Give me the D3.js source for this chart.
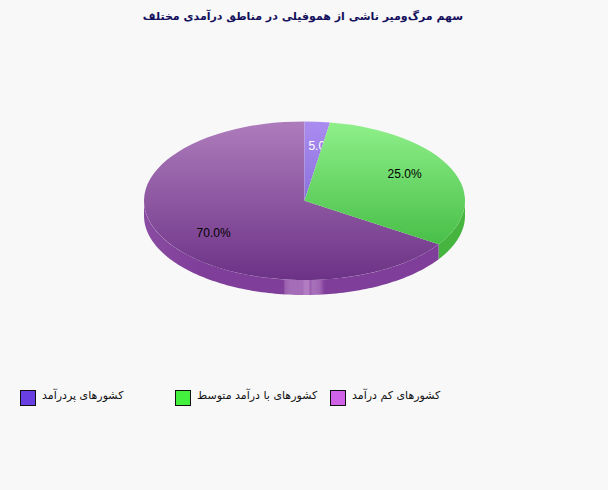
<!DOCTYPE html>
<html lang="fa">
<head>
<meta charset="utf-8">
<script src="https://cdn.jsdelivr.net/npm/d3@7/dist/d3.min.js"></script>
<style>
html,body{margin:0;padding:0;background:#f8f8f8;overflow:hidden}
svg{display:block}
</style>
</head>
<body>
<svg id="c" width="608" height="490"></svg>
<script>
const chartTitle = "سهم مرگ‌ومیر ناشی از هموفیلی در مناطق درآمدی مختلف";
const categories = ["کشورهای پردرآمد", "کشورهای با درآمد متوسط", "کشورهای کم درآمد"];
const shares = [5, 25, 70];
const shareLabels = ["5.0%", "25.0%", "70.0%"];

const legendColors = ["#6a3fe2", "#44f03e", "#d062e8"];
const topColors = ["#ab8cf0", "#8ff08a", "#ae7cbc"];
const bottomColors = ["#8a72dc", "#48bf48", "#6c3286"];
const sideColors = ["#7a5cc8", "#45b53f", "#7f3e9a"];
const labelColors = ["#ffffff", "#000000", "#000000"];

const W = 608, H = 490;
const cx = 304.5, cy = 200.7, rx = 160.5, ry = 79.3, depth = 15;
const svg = d3.select("#c");
const defs = svg.append("defs");

const pie = d3.pie().value(d => d).sort(null)(shares);
// slice edges follow the true screen angle of the flattened pie
const toParam = a => {
  const n = Math.atan2(ry * Math.sin(a), rx * Math.cos(a));
  return n < 0 ? n + 2 * Math.PI : n;
};
const angles = pie.map(p => ({
  t0: toParam(p.startAngle),
  t1: p.endAngle >= 2 * Math.PI - 1e-6 ? 2 * Math.PI : toParam(p.endAngle),
  mid: (p.startAngle + p.endAngle) / 2
}));

const sx = d3.scaleLinear().domain([0, 1]).range([cx, cx + rx]);
const sy = d3.scaleLinear().domain([0, 1]).range([cy, cy + ry]);

// each slice's gradient runs over that slice's own height
shares.forEach((_, i) => {
  const { t0, t1 } = angles[i];
  const lowest = (t0 <= Math.PI && t1 >= Math.PI) ? sy(1) : Math.max(cy, sy(-Math.cos(t0)), sy(-Math.cos(t1)));
  const g = defs.append("linearGradient").attr("id", "g" + i)
    .attr("gradientUnits", "userSpaceOnUse")
    .attr("x1", 0).attr("x2", 0).attr("y1", sy(-1)).attr("y2", lowest);
  g.append("stop").attr("offset", 0).attr("stop-color", topColors[i]);
  g.append("stop").attr("offset", 1).attr("stop-color", bottomColors[i]);
});

// side-wall gradient for the large slice, with the pale glint at the front
const glint = defs.append("linearGradient").attr("id", "side2")
  .attr("gradientUnits", "userSpaceOnUse")
  .attr("x1", cx - rx).attr("x2", cx + rx).attr("y1", 0).attr("y2", 0);
const xOff = d3.scaleLinear().domain([cx - rx, cx + rx]).range([0, 1]);
[[cx - rx, "#8a4ca2"], [200, sideColors[2]], [283.5, sideColors[2]], [285, "#9a5fae"], [290, "#a56db8"], [303, "#a56db8"],
 [304, "#b27cc2"], [309, "#b27cc2"], [310, "#9a5cae"], [313, "#a872ba"], [320, "#a064b4"],
 [323, "#8a4aa2"], [325, sideColors[2]], [cx + rx, sideColors[2]]].forEach(([x, c]) => {
  glint.append("stop").attr("offset", xOff(x)).attr("stop-color", c);
});

// side wall, only the front half of the rim
const wall = d3.area()
  .x(t => sx(Math.sin(t)))
  .y0(t => sy(-Math.cos(t)))
  .y1(t => sy(-Math.cos(t)) + depth);
const gSide = svg.append("g");
shares.forEach((_, i) => {
  const a = Math.max(angles[i].t0, Math.PI / 2), b = Math.min(angles[i].t1, 3 * Math.PI / 2);
  if (b <= a) return;
  const n = 120;
  const ts = d3.range(n + 1).map(k => a + (b - a) * k / n);
  gSide.append("path").attr("d", wall(ts))
    .attr("fill", i === 2 ? "url(#side2)" : sideColors[i]);
});

// top surface: unit arcs stretched by the pie's radii, painted through clips
const arc = d3.arc().innerRadius(0).outerRadius(1);
const gTop = svg.append("g");
const labelX = a => sx(0.7 * Math.sin(a));
const labelY = a => sy(-0.7 * Math.cos(a)) + 4;
const addLabel = i => gTop.append("text")
  .attr("x", labelX(angles[i].mid)).attr("y", labelY(angles[i].mid))
  .attr("text-anchor", "middle")
  .attr("font-family", "Liberation Sans, Arial, sans-serif").attr("font-size", 12)
  .attr("fill", labelColors[i]).text(shareLabels[i]);
[2, 0, 1].forEach(i => {
  const id = "clip" + i;
  defs.append("clipPath").attr("id", id).append("path")
    .attr("d", arc({ startAngle: angles[i].t0, endAngle: angles[i].t1 }))
    .attr("transform", `translate(${cx},${cy}) scale(${rx},${ry})`);
  gTop.append("rect")
    .attr("x", cx - rx - 1).attr("y", cy - ry - 1)
    .attr("width", 2 * rx + 2).attr("height", 2 * ry + 2)
    .attr("clip-path", `url(#${id})`)
    .attr("fill", "url(#g" + i + ")");
  // the small slice's label is overpainted by the green slice, as in the source
  if (i !== 1) addLabel(i);
});
addLabel(1).attr("dy", -1);

svg.append("text")
  .attr("x", W / 2 - 1).attr("y", 19.5)
  .attr("text-anchor", "middle").attr("direction", "rtl")
  .attr("font-family", "DejaVu Sans, sans-serif").attr("font-weight", "bold").attr("font-size", 11)
  .attr("fill", "#14105c").text(chartTitle);

// legend
const legendX = d3.scalePoint().domain(d3.range(categories.length)).range([20, 330]);
const leg = svg.append("g").selectAll("g").data(categories).join("g")
  .attr("transform", (d, i) => `translate(${legendX(i)},390)`);
leg.append("rect").attr("x", 0.5).attr("y", 0.5).attr("width", 15).attr("height", 15)
  .attr("fill", (d, i) => legendColors[i]).attr("stroke", "#111");
leg.append("text").attr("x", 22).attr("y", 9)
  .attr("text-anchor", "end").attr("direction", "rtl")
  .attr("font-family", "DejaVu Sans, sans-serif").attr("font-size", 11)
  .attr("fill", "#111").text(d => d);
</script>
</body>
</html>
